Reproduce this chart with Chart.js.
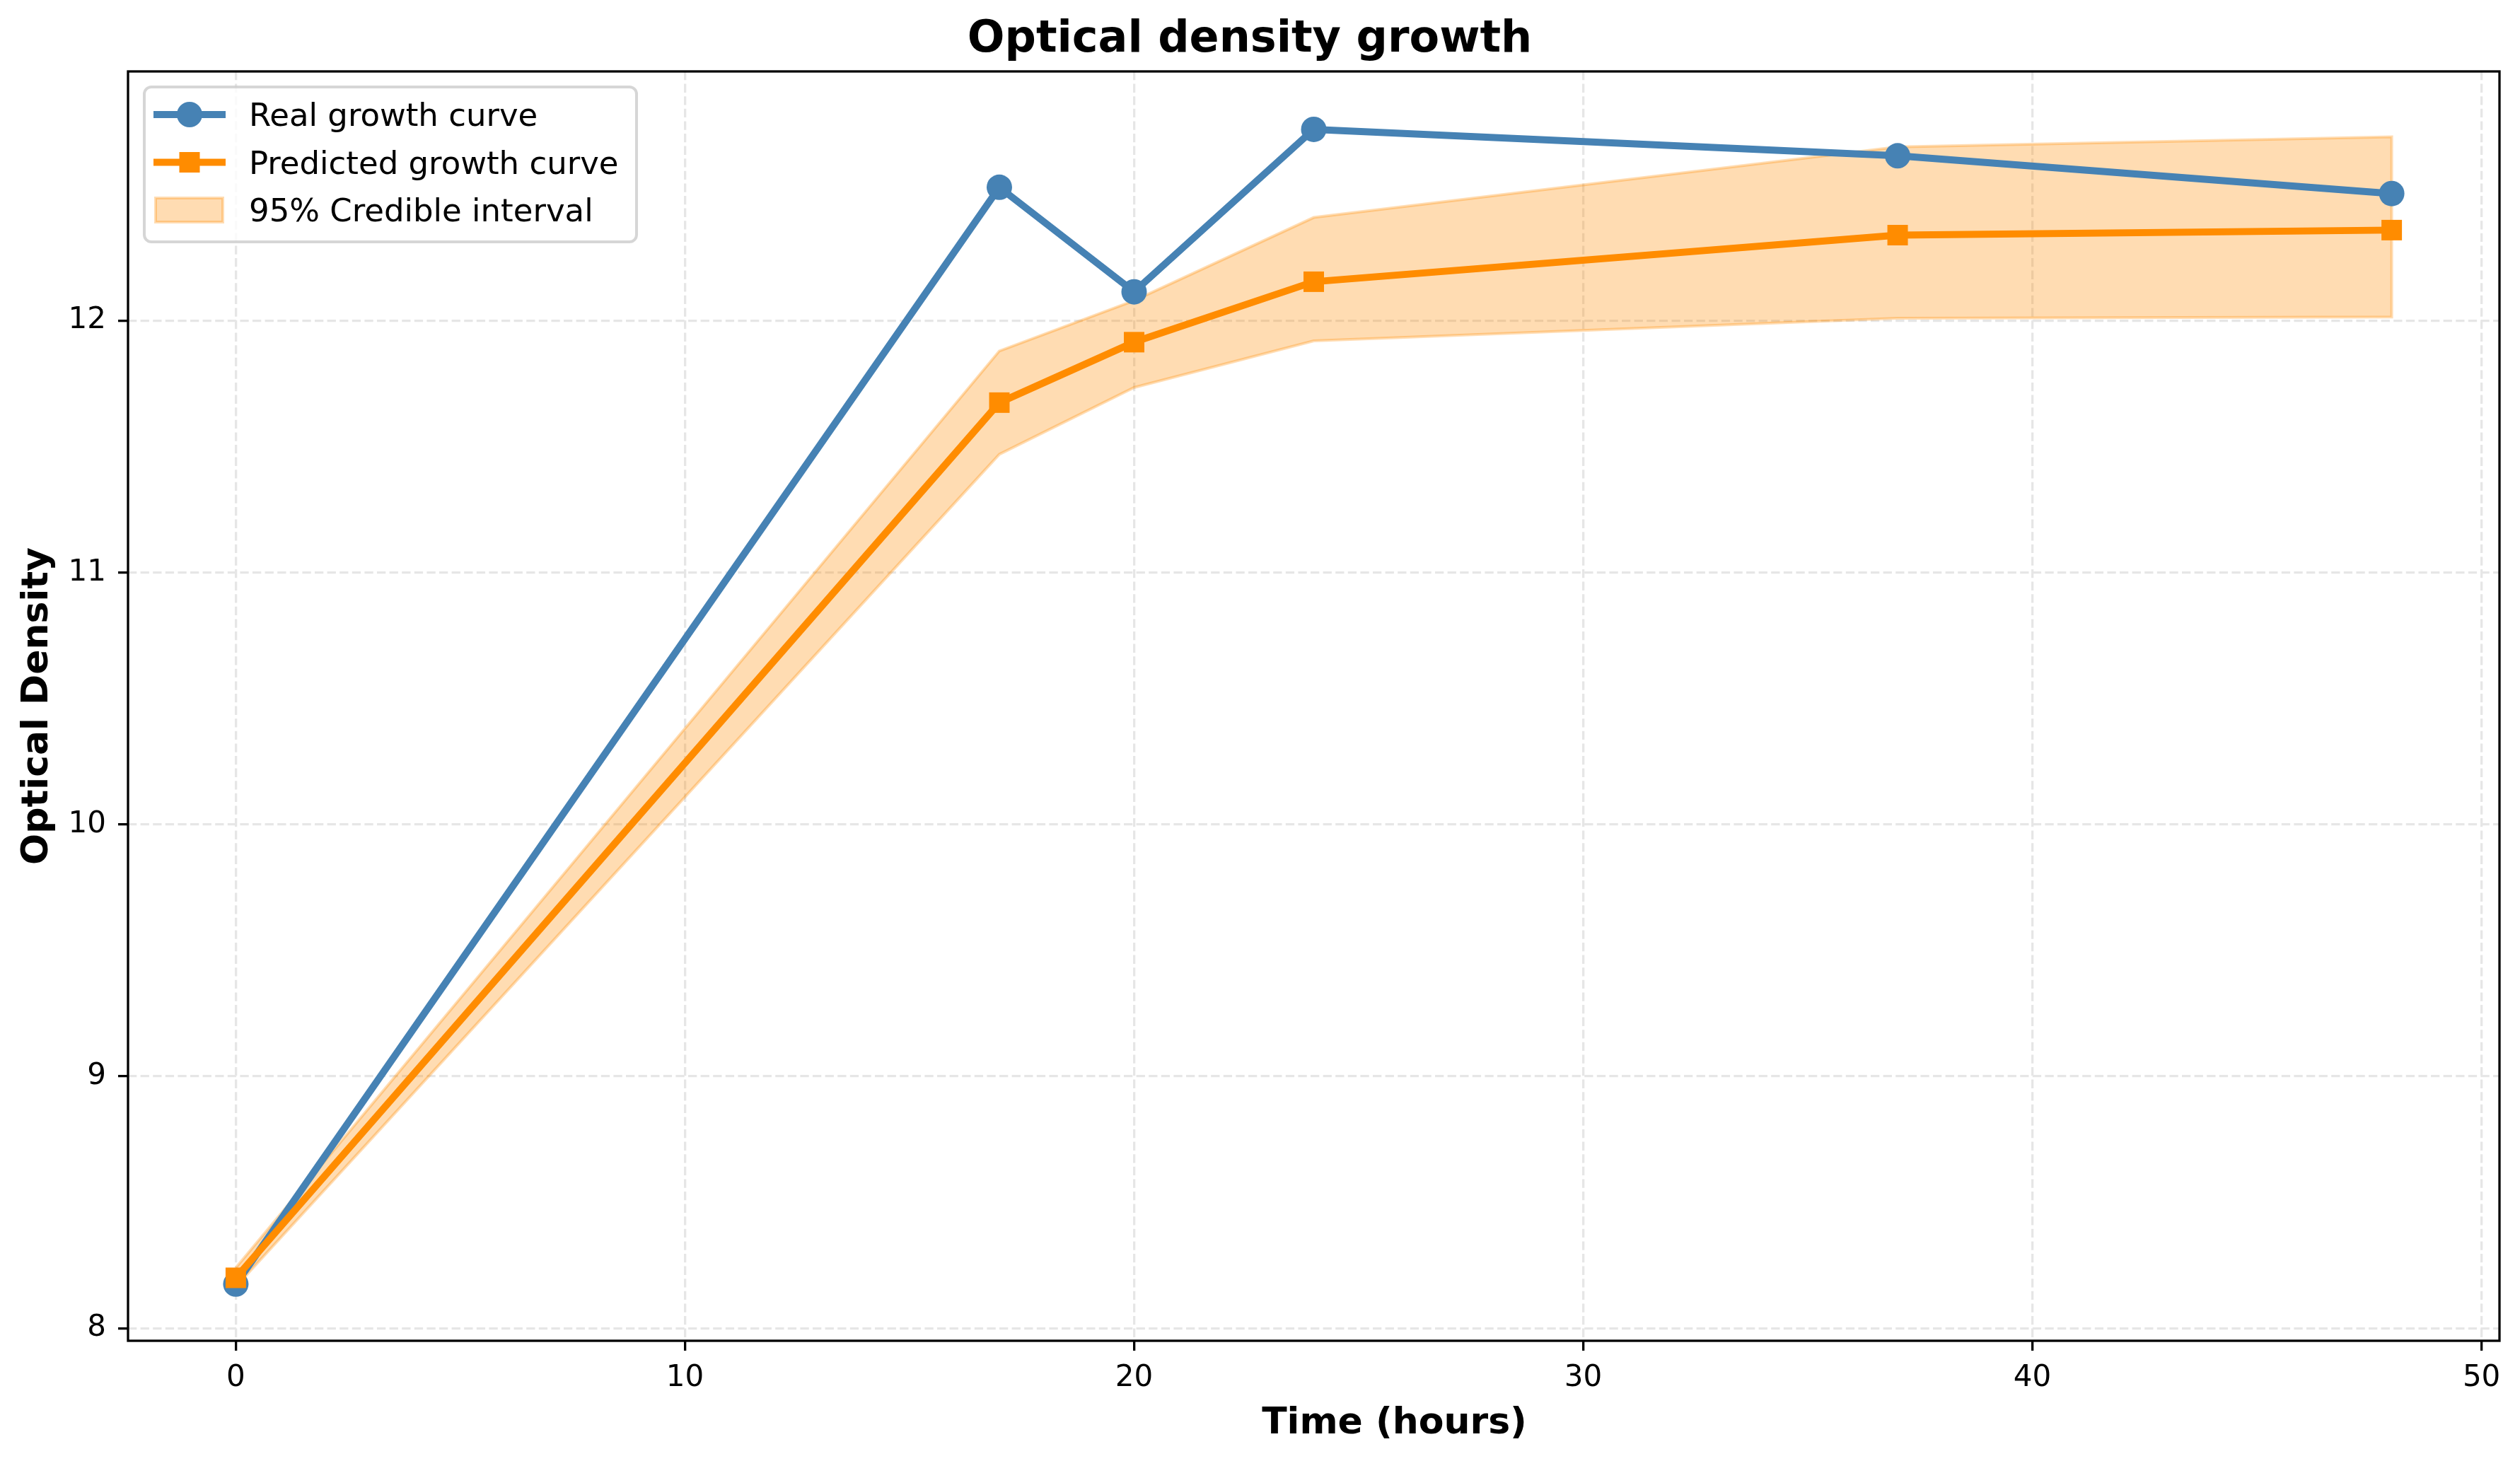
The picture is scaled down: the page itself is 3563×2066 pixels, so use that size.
<!DOCTYPE html>
<html>
<head>
<meta charset="utf-8">
<title>Optical density growth</title>
<script src="https://cdn.jsdelivr.net/npm/chart.js@4.4.1/dist/chart.umd.min.js"></script>
<style>
  html, body { margin: 0; padding: 0; background: #fff; }
  canvas { display: block; }
</style>
</head>
<body>
<canvas id="odChart" width="3563" height="2066"></canvas>
<script>
  // values
  const hours = [0, 17, 20, 24, 37, 48];
  const realOD = [8.175, 12.53, 12.115, 12.76, 12.655, 12.505];
  const predictedOD = [8.20, 11.675, 11.915, 12.155, 12.34, 12.36];
  const ciUpper = [8.24, 11.88, 12.08, 12.41, 12.69, 12.73];
  const ciLower = [8.165, 11.47, 11.735, 11.92, 12.01, 12.015];

  const xTicks = [0, 10, 20, 30, 40, 50];
  const yTicks = [8, 9, 10, 11, 12];

  const FONT = "'DejaVu Sans', 'Liberation Sans', sans-serif";
  const BLUE = '#4682b4';
  const ORANGE = '#ff8c00';
  const BAND = 'rgba(255,140,0,0.3)';
  const GRID = '#e6e6e6';
  const LW = 3.3;          // 0.8pt at 300 dpi
  const X_LABEL_SHIFT = 114;

  const toPoints = (ys) => hours.map((h, i) => ({x: h, y: ys[i]}));

  // closed outline of the credible band (upper edge, back along lower edge)
  const bandOutline = toPoints(ciUpper)
    .concat(toPoints(ciLower).reverse())
    .concat([{x: hours[0], y: ciUpper[0]}]);

  const legendItems = [
    {label: 'Real growth curve', kind: 'circle', color: BLUE},
    {label: 'Predicted growth curve', kind: 'rect', color: ORANGE},
    {label: '95% Credible interval', kind: 'patch', color: BAND},
  ];

  function drawLegend(ctx, area){
    const bx = area.left + 23, by = area.top + 22, bw = 696, bh = 219;
    ctx.save();
    ctx.beginPath();
    ctx.roundRect(bx, by, bw, bh, 10);
    ctx.fillStyle = 'rgba(255,255,255,0.8)';
    ctx.fill();
    ctx.lineWidth = 4;
    ctx.strokeStyle = 'rgba(204,204,204,0.8)';
    ctx.stroke();

    legendItems.forEach((it, i) => {
      const cy = by + 39 + i * 67.5;
      const x0 = bx + 13, x1 = bx + 115, cx = (x0 + x1) / 2;
      if(it.kind === 'patch'){
        ctx.fillStyle = it.color;
        ctx.strokeStyle = it.color;
        ctx.lineWidth = 4;
        ctx.fillRect(bx + 16, cy - 17, 95, 34);
        ctx.strokeRect(bx + 16, cy - 17, 95, 34);
      }else{
        ctx.strokeStyle = it.color;
        ctx.lineWidth = 10;
        ctx.beginPath();
        ctx.moveTo(x0, cy);
        ctx.lineTo(x1, cy);
        ctx.stroke();
        ctx.fillStyle = it.color;
        if(it.kind === 'circle'){
          ctx.beginPath();
          ctx.arc(cx, cy, 18, 0, Math.PI * 2);
          ctx.fill();
        }else{
          ctx.fillRect(cx - 14.5, cy - 14.5, 29, 29);
        }
      }
      ctx.fillStyle = '#000';
      ctx.font = '45px ' + FONT;
      ctx.textAlign = 'left';
      ctx.textBaseline = 'alphabetic';
      ctx.fillText(it.label, bx + 148, cy + 16);
    });
    ctx.restore();
  }

  const mplExtras = {
    id: 'mplExtras',
    afterDraw(chart){
      const {ctx, chartArea: a} = chart;
      ctx.save();
      // four spines
      ctx.lineWidth = LW;
      ctx.strokeStyle = '#000';
      ctx.strokeRect(a.left, a.top, a.right - a.left, a.bottom - a.top);
      // x axis label (sits right of centre in the original)
      ctx.fillStyle = '#000';
      ctx.font = 'bold 52px ' + FONT;
      ctx.textAlign = 'center';
      ctx.textBaseline = 'alphabetic';
      ctx.fillText('Time (hours)', (a.left + a.right) / 2 + X_LABEL_SHIFT, a.bottom + 131);
      ctx.restore();
      drawLegend(ctx, a);
    }
  };

  const gridOpts = {
    color: GRID,
    lineWidth: LW,
    tickColor: '#000',
    tickWidth: LW,
    tickLength: 14,
    tickBorderDash: [],
  };

  new Chart(document.getElementById('odChart'), {
    type: 'line',
    data: {
      datasets: [
        {
          label: 'Predicted growth curve',
          data: toPoints(predictedOD),
          borderColor: ORANGE,
          backgroundColor: ORANGE,
          borderWidth: 10,
          borderJoinStyle: 'round',
          pointStyle: 'rect',
          pointRadius: 20.5,
          pointBorderWidth: 0,
          pointBackgroundColor: ORANGE,
          fill: false,
        },
        {
          label: 'Real growth curve',
          data: toPoints(realOD),
          borderColor: BLUE,
          backgroundColor: BLUE,
          borderWidth: 10,
          borderJoinStyle: 'round',
          pointStyle: 'circle',
          pointRadius: 18,
          pointBorderWidth: 0,
          pointBackgroundColor: BLUE,
          fill: false,
        },
        {
          label: 'band edge',
          data: bandOutline,
          borderColor: BAND,
          borderWidth: 4,
          pointRadius: 0,
          fill: false,
        },
        {
          label: '95% Credible interval',
          data: toPoints(ciUpper),
          borderColor: 'transparent',
          borderWidth: 1,
          backgroundColor: BAND,
          pointRadius: 0,
          fill: 4,
        },
        {
          label: 'band lower',
          data: toPoints(ciLower),
          borderColor: 'transparent',
          borderWidth: 1,
          pointRadius: 0,
          fill: false,
        },
      ]
    },
    options: {
      responsive: false,
      devicePixelRatio: 1,
      animation: false,
      events: [],
      layout: { padding: { left: 0, right: 29, top: 0, bottom: 0 } },
      scales: {
        x: {
          type: 'linear',
          min: -2.4,
          max: 50.4,
          afterBuildTicks: (s) => { s.ticks = xTicks.map(v => ({value: v})); },
          afterFit: (s) => { s.height = 170; },
          ticks: {
            color: '#000',
            font: { family: FONT, size: 42 },
            padding: 14,
            maxRotation: 0,
            autoSkip: false,
          },
          grid: gridOpts,
          border: { display: false, dash: [12.3, 5.3] },
        },
        y: {
          type: 'linear',
          min: 7.95,
          max: 12.99,
          afterBuildTicks: (s) => { s.ticks = yTicks.map(v => ({value: v})); },
          afterFit: (s) => { s.width = 181; },
          ticks: {
            color: '#000',
            font: { family: FONT, size: 42 },
            padding: 17,
            autoSkip: false,
          },
          grid: gridOpts,
          border: { display: false, dash: [12.3, 5.3] },
          title: {
            display: true,
            text: 'Optical Density',
            color: '#000',
            font: { family: FONT, size: 52, weight: 'bold' },
            padding: { top: 22, bottom: 0 },
          },
        }
      },
      plugins: {
        legend: { display: false },
        tooltip: { enabled: false },
        title: {
          display: true,
          text: 'Optical density growth',
          color: '#000',
          font: { family: FONT, size: 62, weight: 'bold', lineHeight: 1.2 },
          padding: { top: 20, bottom: 6.6 },
        },
      }
    },
    plugins: [mplExtras]
  });
</script>
</body>
</html>
